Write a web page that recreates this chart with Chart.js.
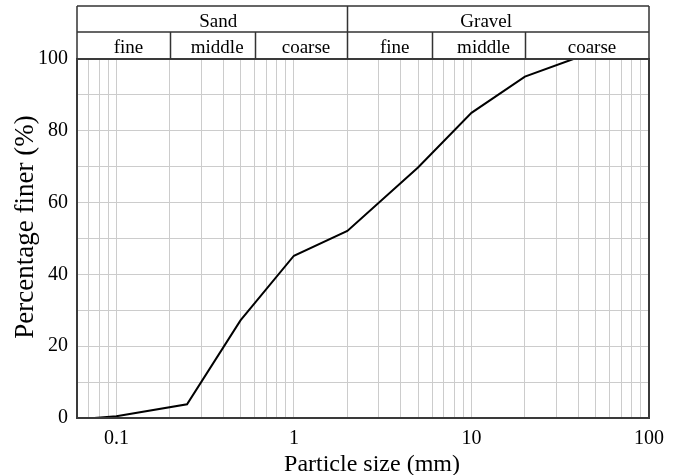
<!DOCTYPE html>
<html>
<head>
<meta charset="utf-8">
<script src="https://cdn.jsdelivr.net/npm/chart.js@4.4.1/dist/chart.umd.min.js"></script>
<style>
html,body{margin:0;padding:0;background:#fff;}
#wrap{width:681px;height:475px;position:relative;}
</style>
</head>
<body>
<div id="wrap"><canvas id="c" width="681" height="475"></canvas></div>
<script>
// ---- data ----
const particleSize = [0.075, 0.1, 0.25, 0.5, 1, 2, 5, 10, 20, 37.5];
const percentFiner = [0, 0.5, 3.8, 27.2, 45.2, 52.1, 69.8, 85.0, 95.1, 100];
const xTickValues = [0.07,0.08,0.09,0.1,0.2,0.3,0.4,0.5,0.6,0.7,0.8,0.9,1,2,3,4,5,6,7,8,9,10,20,30,40,50,60,70,80,90,100];
const xTickLabels = [0.1, 1, 10, 100];
const yLabelStep = 20;
const xTitle = 'Particle size (mm)';
const yTitle = 'Percentage finer (%)';
// classification header
const mainClasses = ['Sand', 'Gravel'];
const mainBounds = [0.06, 2, 100];
const subClasses = ['fine', 'middle', 'coarse', 'fine', 'middle', 'coarse'];
const subBounds = [0.06, 0.2, 0.6, 2, 6, 20, 100];

const SERIF = '"Liberation Serif", "Times New Roman", serif';

const headerPlugin = {
  id: 'header',
  afterDraw(chart) {
    const ctx = chart.ctx;
    const a = chart.chartArea;
    const xs = chart.scales.x;
    const top = 6, mid = 32, bot = a.top;
    ctx.save();
    // frame
    ctx.strokeStyle = '#3a3a3a';
    ctx.lineWidth = 2;
    ctx.strokeRect(a.left, a.top, a.right - a.left, a.bottom - a.top);
    // header table
    ctx.lineWidth = 1.5;
    ctx.strokeStyle = '#333';
    ctx.beginPath();
    ctx.moveTo(a.left, top); ctx.lineTo(a.right, top);
    ctx.moveTo(a.left, mid); ctx.lineTo(a.right, mid);
    ctx.moveTo(a.left, top); ctx.lineTo(a.left, bot);
    ctx.moveTo(a.right, top); ctx.lineTo(a.right, bot);
    for (let i = 1; i < mainBounds.length - 1; i++) {
      const x = Math.round(xs.getPixelForValue(mainBounds[i])) + 0.5;
      ctx.moveTo(x, top); ctx.lineTo(x, bot);
    }
    for (let i = 1; i < subBounds.length - 1; i++) {
      if (mainBounds.includes(subBounds[i])) continue;
      const x = Math.round(xs.getPixelForValue(subBounds[i])) + 0.5;
      ctx.moveTo(x, mid); ctx.lineTo(x, bot);
    }
    ctx.stroke();
    // header text
    ctx.fillStyle = '#000';
    ctx.font = '19px ' + SERIF;
    ctx.textAlign = 'center';
    ctx.textBaseline = 'alphabetic';
    const mainOff = [6, -12];
    mainClasses.forEach((t, i) => {
      const x0 = Math.max(a.left, xs.getPixelForValue(mainBounds[i]));
      const x1 = Math.min(a.right, xs.getPixelForValue(mainBounds[i + 1]));
      ctx.fillText(t, (x0 + x1) / 2 + mainOff[i], 27);
    });
    subClasses.forEach((t, i) => {
      const x0 = Math.max(a.left, xs.getPixelForValue(subBounds[i]));
      const x1 = Math.min(a.right, xs.getPixelForValue(subBounds[i + 1]));
      ctx.fillText(t, (x0 + x1) / 2 + 5, 53);
    });
    // axis titles
    ctx.font = '24px ' + SERIF;
    ctx.fillText(xTitle, (a.left + a.right) / 2 + 9, 471);
    ctx.save();
    ctx.translate(26, 227);
    ctx.rotate(-Math.PI / 2);
    ctx.font = '27px ' + SERIF;
    ctx.textBaseline = 'middle';
    ctx.fillText(yTitle, 0, 0);
    ctx.restore();
    ctx.restore();
  }
};

new Chart(document.getElementById('c'), {
  type: 'line',
  data: {
    datasets: [{
      data: particleSize.map((x, i) => ({ x: x, y: percentFiner[i] })),
      borderColor: '#000',
      borderWidth: 2,
      pointRadius: 0,
      tension: 0,
      fill: false
    }]
  },
  options: {
    responsive: false,
    animation: false,
    devicePixelRatio: 1,
    layout: { padding: { top: 59, right: 32, left: 0, bottom: 0 } },
    plugins: { legend: { display: false }, tooltip: { enabled: false } },
    scales: {
      x: {
        type: 'logarithmic',
        min: 0.06,
        max: 100,
        afterBuildTicks(scale) {
          scale.ticks = xTickValues.map(v => ({ value: v }));
        },
        afterFit(scale) { scale.height = 57; },
        grid: { color: '#cccccc', lineWidth: 1, drawTicks: false },
        border: { display: false },
        ticks: {
          autoSkip: false,
          maxRotation: 0,
          padding: 9,
          color: '#000',
          font: { family: SERIF, size: 20 },
          callback: (v) => xTickLabels.includes(v) ? String(v) : ''
        }
      },
      y: {
        min: 0,
        max: 100,
        afterFit(scale) { scale.width = 77; },
        grid: { color: '#cccccc', lineWidth: 1, drawTicks: false },
        border: { display: false },
        ticks: {
          stepSize: 10,
          padding: 9,
          color: '#000',
          font: { family: SERIF, size: 20 },
          callback: (v) => v % yLabelStep === 0 ? String(v) : ''
        }
      }
    }
  },
  plugins: [headerPlugin]
});
</script>
</body>
</html>
